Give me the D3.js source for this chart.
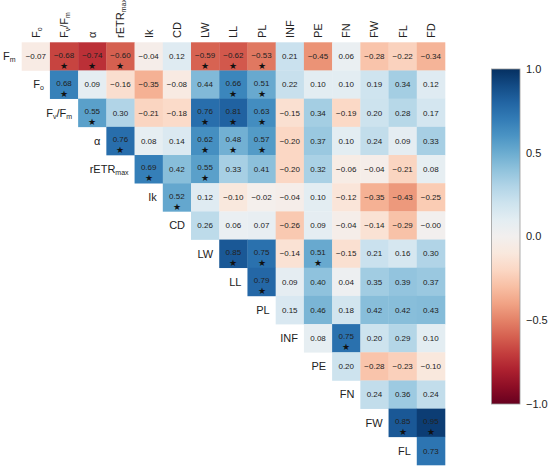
<!DOCTYPE html>
<html>
<head>
<meta charset="utf-8">
<script src="https://cdn.jsdelivr.net/npm/d3@7"></script>
<style>
  body { margin: 0; background: #fff; }
  svg { font-family: "Liberation Sans", Arial, sans-serif; }
</style>
</head>
<body>
<div id="chart"></div>
<script>
// Row and column variables (label text, subscript)
const rowLabels = [
  [["F", "m"]], [["F", "o"]], [["F", "v"], ["/F", "m"]], [["α", ""]], [["rETR", "max"]],
  [["Ik", ""]], [["CD", ""]], [["LW", ""]], [["LL", ""]], [["PL", ""]],
  [["INF", ""]], [["PE", ""]], [["FN", ""]], [["FW", ""]], [["FL", ""]]
];
const colLabels = [
  [["F", "o"]], [["F", "v"], ["/F", "m"]], [["α", ""]], [["rETR", "max"]], [["Ik", ""]],
  [["CD", ""]], [["LW", ""]], [["LL", ""]], [["PL", ""]], [["INF", ""]],
  [["PE", ""]], [["FN", ""]], [["FW", ""]], [["FL", ""]], [["FD", ""]]
];

// Correlation values, row i starts at column i
const values = [
  [-0.07, -0.68, -0.74, -0.60, -0.04, 0.12, -0.59, -0.62, -0.53, 0.21, -0.45, 0.06, -0.28, -0.22, -0.34],
  [0.68, 0.09, -0.16, -0.35, -0.08, 0.44, 0.66, 0.51, 0.22, 0.10, 0.10, 0.19, 0.34, 0.12],
  [0.55, 0.30, -0.21, -0.18, 0.76, 0.81, 0.63, -0.15, 0.34, -0.19, 0.20, 0.28, 0.17],
  [0.76, 0.08, 0.14, 0.62, 0.48, 0.57, -0.20, 0.37, 0.10, 0.24, 0.09, 0.33],
  [0.69, 0.42, 0.55, 0.33, 0.41, -0.20, 0.32, -0.06, -0.04, -0.21, 0.08],
  [0.52, 0.12, -0.10, -0.02, -0.04, 0.10, -0.12, -0.35, -0.43, -0.25],
  [0.26, 0.06, 0.07, -0.26, 0.09, -0.04, -0.14, -0.29, -0.001],
  [0.85, 0.75, -0.14, 0.51, -0.15, 0.21, 0.16, 0.30],
  [0.79, 0.09, 0.40, 0.04, 0.35, 0.39, 0.37],
  [0.15, 0.46, 0.18, 0.42, 0.42, 0.43],
  [0.08, 0.75, 0.20, 0.29, 0.10],
  [0.20, -0.28, -0.23, -0.10],
  [0.24, 0.36, 0.24],
  [0.85, 0.95],
  [0.73]
];

// Significance markers (1 = star), same shape as values
const signif = [
  [0, 1, 1, 1, 0, 0, 1, 1, 1, 0, 0, 0, 0, 0, 0],
  [1, 0, 0, 0, 0, 0, 1, 1, 0, 0, 0, 0, 0, 0],
  [1, 0, 0, 0, 1, 1, 1, 0, 0, 0, 0, 0, 0],
  [1, 0, 0, 1, 1, 1, 0, 0, 0, 0, 0, 0],
  [1, 0, 1, 0, 0, 0, 0, 0, 0, 0, 0],
  [1, 0, 0, 0, 0, 0, 0, 0, 0, 0],
  [0, 0, 0, 0, 0, 0, 0, 0, 0],
  [1, 1, 0, 1, 0, 0, 0, 0],
  [1, 0, 0, 0, 0, 0, 0],
  [0, 0, 0, 0, 0, 0],
  [0, 1, 0, 0, 0],
  [0, 0, 0, 0],
  [0, 0, 0],
  [1, 1],
  [0]
];

const legendTicks = [1.0, 0.5, 0.0, -0.5, -1.0];

const W = 550, H = 470;
const svg = d3.select("#chart").append("svg")
  .attr("width", W).attr("height", H);

// Grid scales
const x = d3.scaleBand().domain(d3.range(15)).range([21.7, 445]).padding(0);
const y = d3.scaleBand().domain(d3.range(15)).range([42.3, 465]).padding(0);
const color = v => d3.interpolateRdBu((v + 1) / 2);

// Flatten cells
const cells = [];
values.forEach((row, i) => {
  row.forEach((v, k) => {
    cells.push({ r: i, c: i + k, v: v, s: signif[i][k] });
  });
});

// format like the reference: minus sign kept for tiny negatives
const fmt = v => (v < 0 ? "\u2212" : "") + Math.abs(v).toFixed(2);

// helper to write label with subscripts
function writeLabel(sel, parts) {
  parts.forEach(p => {
    sel.append("tspan").text(p[0]);
    if (p[1]) {
      sel.append("tspan")
        .attr("font-size", "7px")
        .attr("baseline-shift", "-2")
        .text(p[1]);
    }
  });
}

const g = svg.append("g");

g.selectAll("rect.cell")
  .data(cells)
  .enter()
  .append("rect")
  .attr("class", "cell")
  .attr("x", d => x(d.c))
  .attr("y", d => y(d.r))
  .attr("width", x.bandwidth() + 0.3)
  .attr("height", y.bandwidth() + 0.3)
  .attr("fill", d => color(d.v));

g.selectAll("text.val")
  .data(cells)
  .enter()
  .append("text")
  .attr("class", "val")
  .attr("x", d => x(d.c) + x.bandwidth() / 2)
  .attr("y", d => y(d.r) + y.bandwidth() / 2 - (d.s ? 1.5 : 0))
  .attr("dy", "0.35em")
  .attr("text-anchor", "middle")
  .attr("font-size", "8px")
  .attr("fill", "#222")
  .text(d => fmt(d.v));

g.selectAll("text.star")
  .data(cells.filter(d => d.s))
  .enter()
  .append("text")
  .attr("class", "star")
  .attr("x", d => x(d.c) + x.bandwidth() / 2)
  .attr("y", d => y(d.r) + y.bandwidth() - 1.8)
  .attr("text-anchor", "middle")
  .attr("font-size", "9px")
  .attr("fill", "#111")
  .text("★");

// Column labels (rotated)
colLabels.forEach((lab, c) => {
  const t = svg.append("text")
    .attr("transform", `translate(${x(c) + x.bandwidth() / 2 + 4},38) rotate(-90)`)
    .attr("text-anchor", "start")
    .attr("font-size", "11px")
    .attr("fill", "#222");
  writeLabel(t, lab);
});

// Row labels
rowLabels.forEach((lab, r) => {
  const t = svg.append("text")
    .attr("x", x(r) - 6)
    .attr("y", y(r) + y.bandwidth() / 2)
    .attr("dy", "0.35em")
    .attr("text-anchor", "end")
    .attr("font-size", "11px")
    .attr("fill", "#222");
  writeLabel(t, lab);
});

// Colour bar
const defs = svg.append("defs");
const grad = defs.append("linearGradient")
  .attr("id", "cbar").attr("x1", 0).attr("y1", 1).attr("x2", 0).attr("y2", 0);
d3.range(0, 1.0001, 0.05).forEach(t => {
  grad.append("stop").attr("offset", t).attr("stop-color", d3.interpolateRdBu(t));
});

const ly = d3.scaleLinear().domain([-1, 1]).range([404, 69]);
svg.append("rect")
  .attr("x", 491.5).attr("y", ly(1))
  .attr("width", 28.5).attr("height", ly(-1) - ly(1))
  .attr("fill", "url(#cbar)")
  .attr("stroke", "#999").attr("stroke-width", 0.8);

svg.selectAll("text.lt")
  .data(legendTicks)
  .enter()
  .append("text")
  .attr("class", "lt")
  .attr("x", 526)
  .attr("y", d => ly(d))
  .attr("dy", "0.35em")
  .attr("font-size", "11px")
  .attr("fill", "#222")
  .text(d => d.toFixed(1).replace("-", "\u2212"));
</script>
</body>
</html>
